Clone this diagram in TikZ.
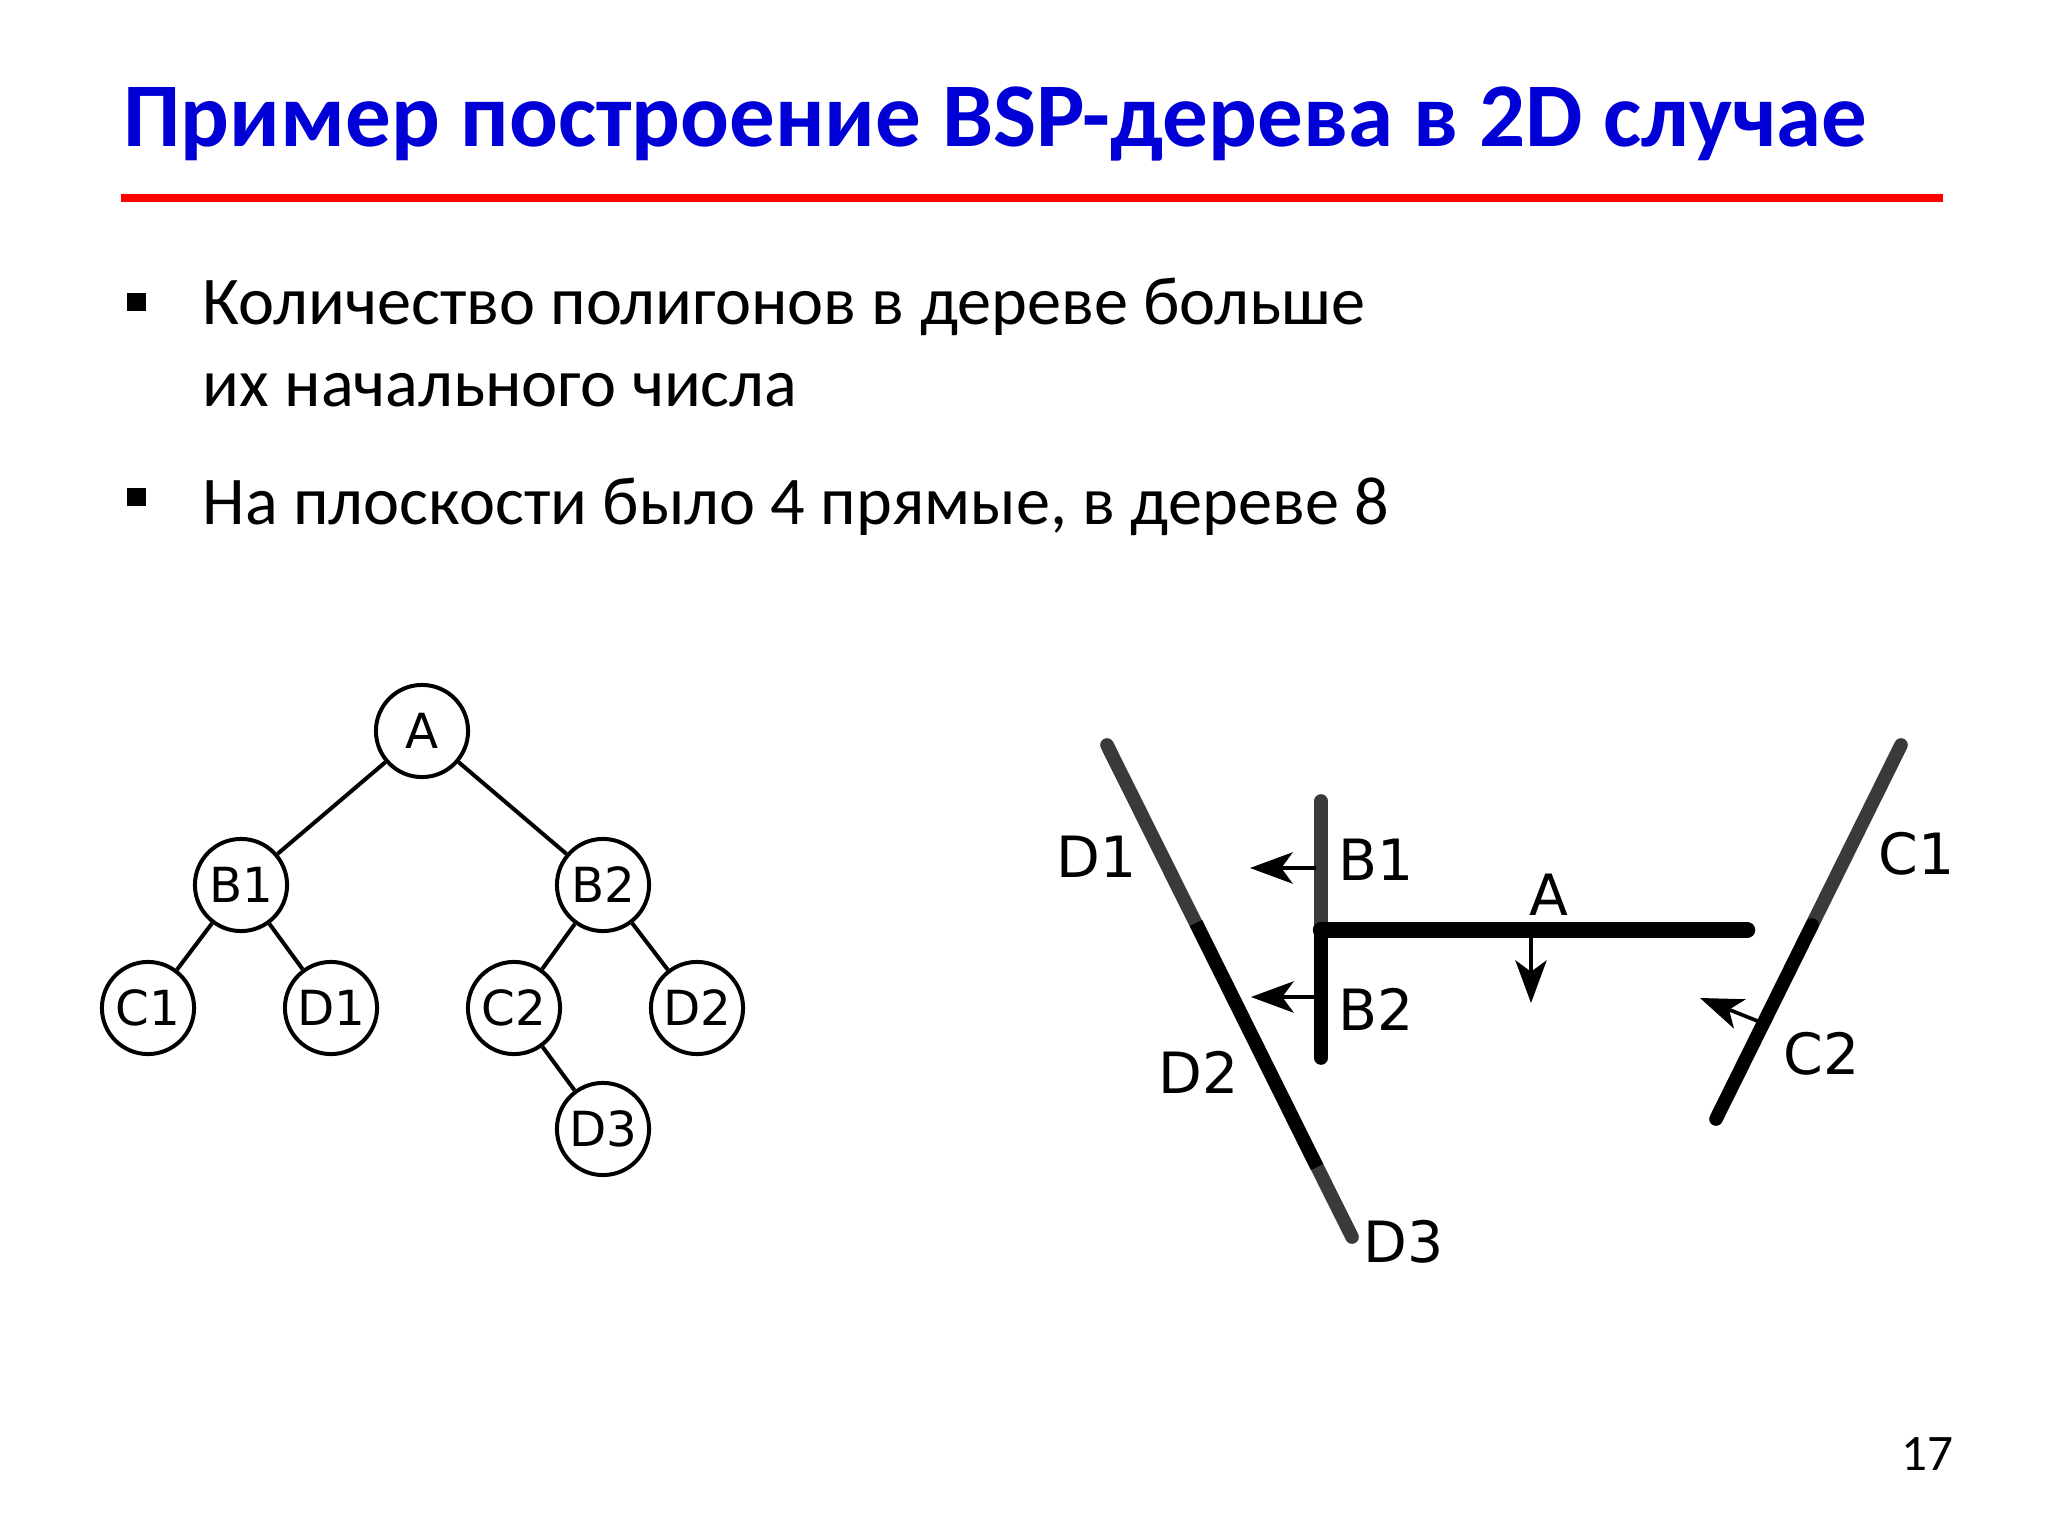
\documentclass[tikz,border=0pt]{standalone}
\usepackage{fontspec}
\setmainfont{Carlito}
\newfontfamily\lblfont{DejaVu Sans}
\usepackage{tikz}
\usetikzlibrary{arrows.meta}

\definecolor{titleblue}{RGB}{0,0,214}
\definecolor{rulered}{RGB}{255,0,0}
\definecolor{splitgray}{RGB}{58,58,58}

\tikzset{
  treenode/.style={draw, circle, line width=1.4pt, minimum size=32.4pt, inner sep=0pt,
    font=\lblfont\fontsize{17}{20}\selectfont},
  treeedge/.style={line width=1.4pt},
  planeline/.style={line width=4.8pt, line cap=round},
  planelbl/.style={anchor=base west, inner sep=0pt, font=\lblfont\fontsize{20}{24}\selectfont},
  facing/.style={-{Stealth[length=15pt,width=11pt,inset=4pt]}, line width=1.3pt},
  bulletsq/.style={fill=black, minimum size=6.6pt, inner sep=0pt},
  bodytext/.style={anchor=base west, inner sep=0pt, font=\fontsize{24}{28}\selectfont},
}

\begin{document}
\begin{tikzpicture}[x=0.3515625pt, y=-0.3515625pt]
  \useasboundingbox (0,0) rectangle (2048,1536);

  % title and rule
  \node[anchor=base west, inner sep=0pt, text=titleblue,
        font=\fontsize{32}{38}\selectfont\bfseries] (title) at (123,147)
        {Пример построение BSP-дерева в 2D случае};
  \coordinate (ruleL) at (121,198);
  \coordinate (ruleR) at (1943,198);
  \draw[rulered, line width=2.8pt] (ruleL) -- (ruleR);

  % bullets
  \node[bulletsq] (bul1) at (136.5,302) {};
  \node[bulletsq] (bul2) at (136.5,497) {};
  \node[bodytext] (line1) at (202,325) {Количество полигонов в дереве больше};
  \node[bodytext] (line2) at (202,407) {их начального числа};
  \node[bodytext] (line3) at (202,525) {На плоскости было 4 прямые, в дереве 8};

  % the tree
  \node[treenode] (tA)  at (422,731)  {A};
  \node[treenode] (tB1) at (241,885)  {B1};
  \node[treenode] (tB2) at (603,885)  {B2};
  \node[treenode] (tC1) at (148,1008) {C1};
  \node[treenode] (tD1) at (331,1008) {D1};
  \node[treenode] (tC2) at (514,1008) {C2};
  \node[treenode] (tD2) at (697,1008) {D2};
  \node[treenode] (tD3) at (603,1129) {D3};
  \foreach \p/\c in {tA/tB1, tA/tB2, tB1/tC1, tB1/tD1, tB2/tC2, tB2/tD2, tC2/tD3}
    \draw[treeedge] (\p) -- (\c);

  % the plane: D line
  \coordinate (dTop) at (1107,745);
  \coordinate (dK1)  at (1196,923);
  \coordinate (dK2)  at (1317,1167);
  \coordinate (dBot) at (1352,1237);
  \draw[planeline, splitgray] (dTop) -- (dBot);
  \draw[planeline, black, line cap=butt] (dK1) -- (dK2);

  % C line
  \coordinate (cTop) at (1901,745);
  \coordinate (cK)   at (1812,925);
  \coordinate (cBot) at (1716,1119);
  \draw[planeline, splitgray] (cTop) -- (cK);
  \draw[planeline, black] (cK) -- (cBot);

  % B line
  \coordinate (bTop) at (1321,801);
  \coordinate (bK)   at (1321,930);
  \coordinate (bBot) at (1321,1058);
  \draw[planeline, splitgray] (bTop) -- (bK);
  \draw[planeline, black] (bK) -- (bBot);

  % A line
  \coordinate (aEnd) at (1747,930);
  \draw[line width=5.8pt, line cap=round] (bK) -- (aEnd);

  % normals
  \coordinate (nB1s) at (1316,868);  \coordinate (nB1t) at (1250,868);
  \coordinate (nB2s) at (1316,997);  \coordinate (nB2t) at (1251,997);
  \coordinate (nAs)  at (1531,936);  \coordinate (nAt)  at (1531,1003);
  \coordinate (nC2s) at (1760,1022); \coordinate (nC2t) at (1700,998);
  \draw[facing] (nB1s) -- (nB1t);
  \draw[facing] (nB2s) -- (nB2t);
  \draw[facing] (nAs) -- (nAt);
  \draw[facing] (nC2s) -- (nC2t);

  % labels
  \node[planelbl] (lD1) at (1056,877)  {D1};
  \node[planelbl] (lB1) at (1338,880)  {B1};
  \node[planelbl] (lA)  at (1529,915)  {A};
  \node[planelbl] (lC1) at (1878,874)  {C1};
  \node[planelbl] (lB2) at (1338,1030) {B2};
  \node[planelbl] (lC2) at (1783,1074) {C2};
  \node[planelbl] (lD2) at (1158,1093) {D2};
  \node[planelbl] (lD3) at (1363,1262) {D3};

  % page number
  \node[anchor=base east, inner sep=0pt, font=\fontsize{18}{22}\selectfont] (pgnum) at (1954,1470) {17};
\end{tikzpicture}
\end{document}
